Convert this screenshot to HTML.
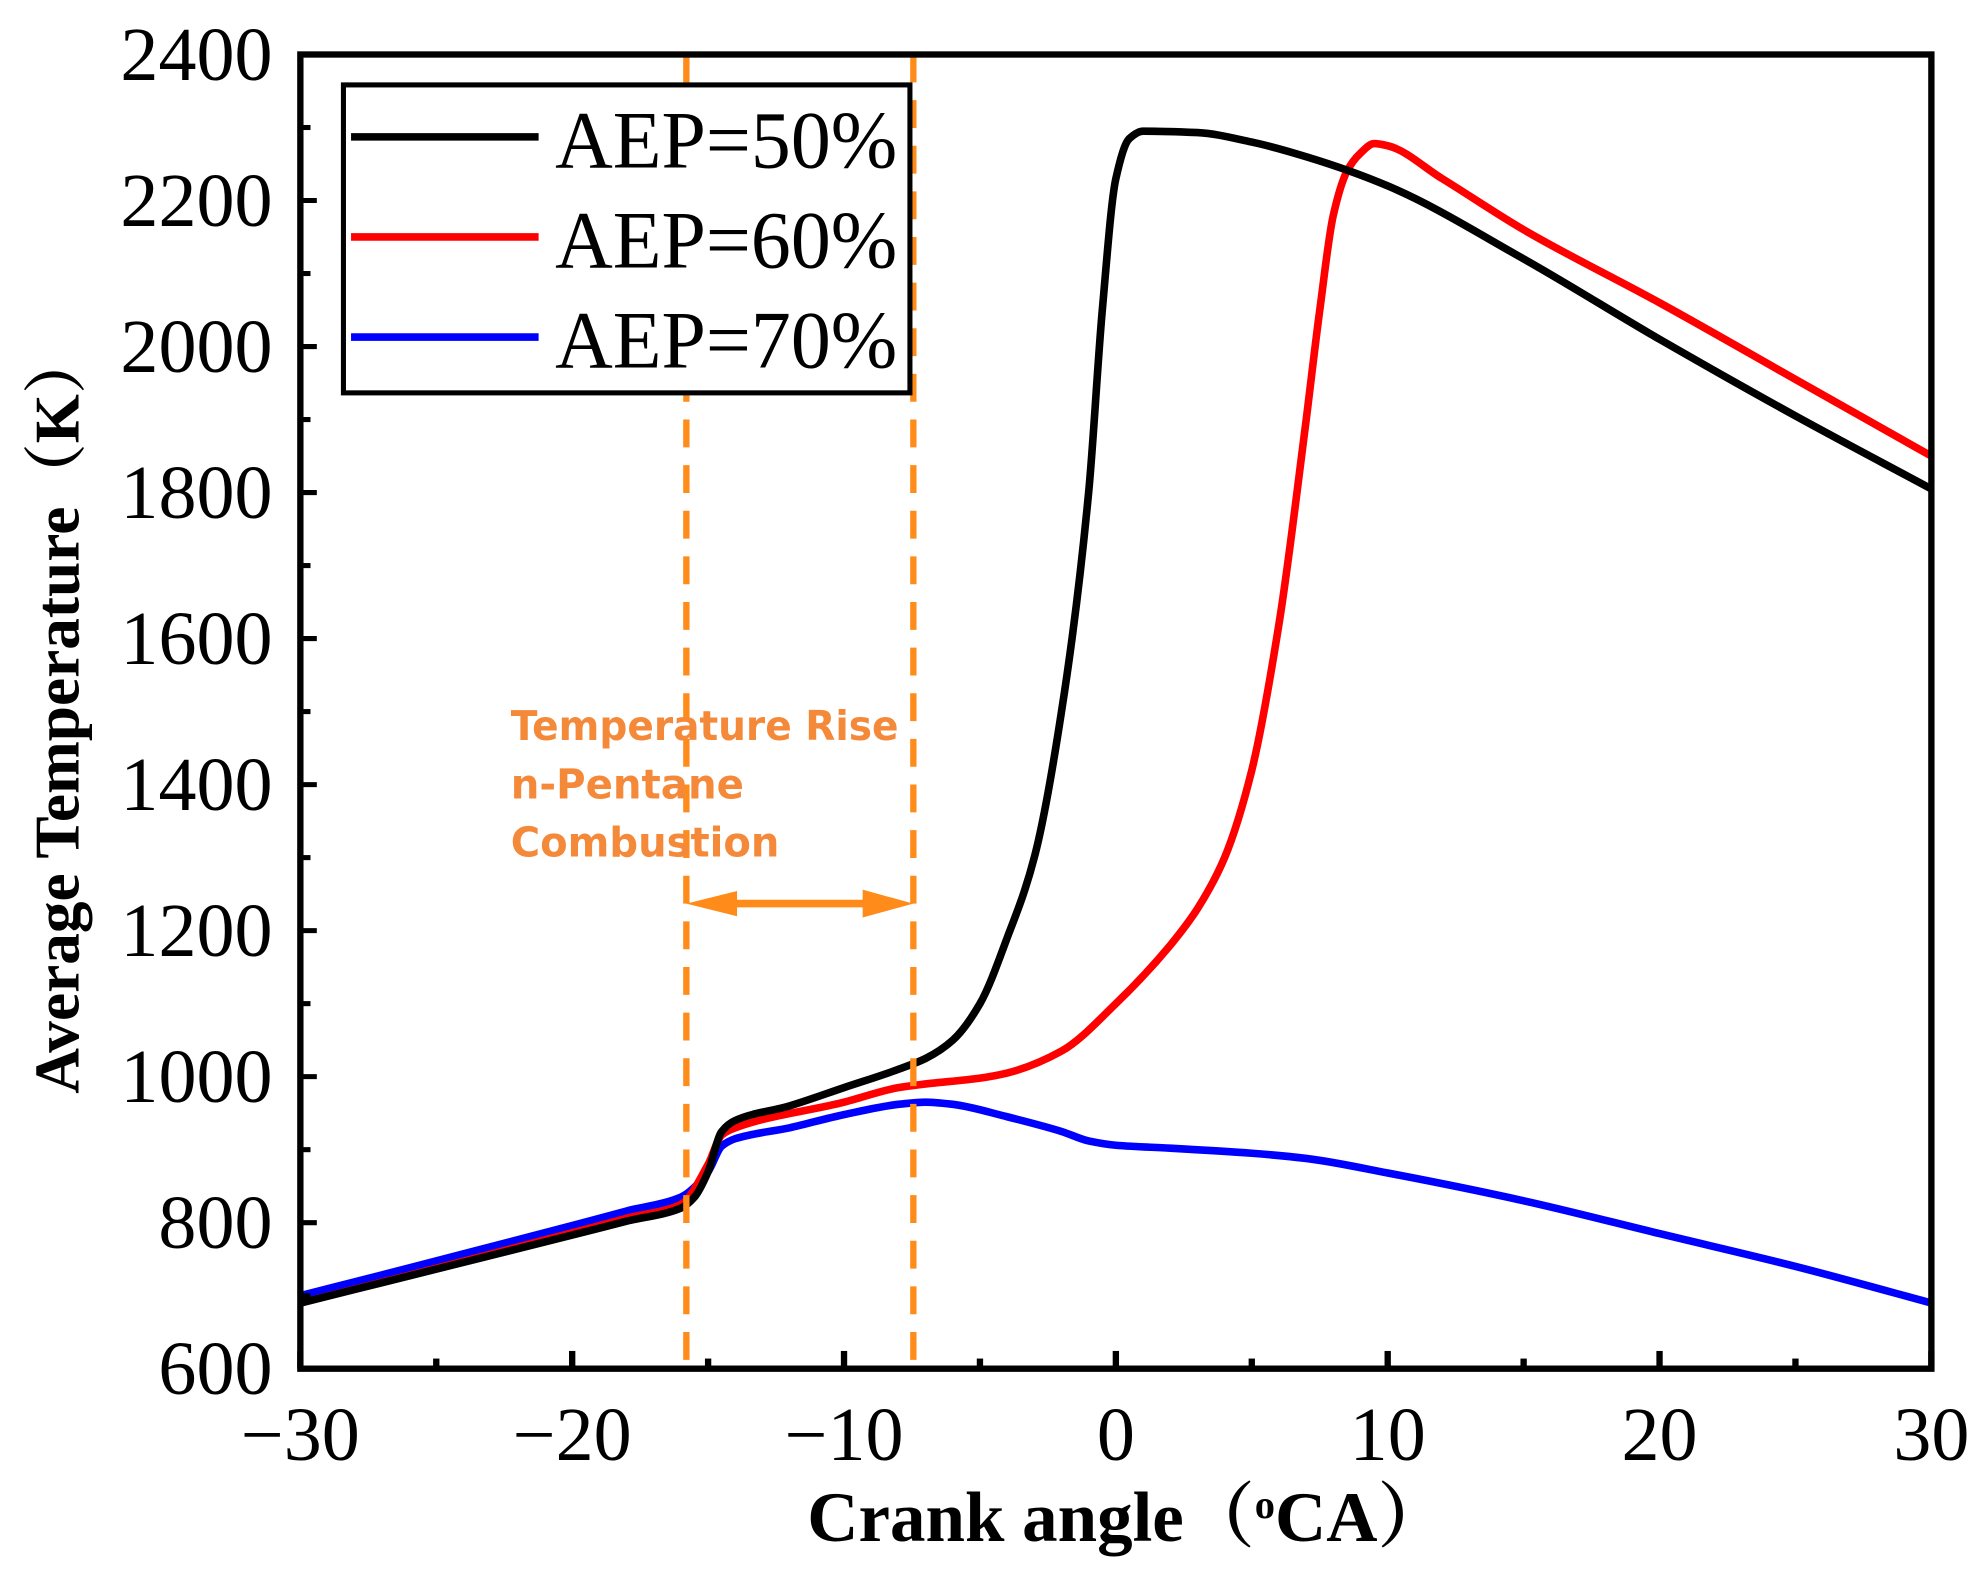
<!DOCTYPE html>
<html><head><meta charset="utf-8"><style>
html,body{margin:0;padding:0;background:#fff;}
svg{display:block;}
</style></head><body>
<svg id="chart" width="1977" height="1574" viewBox="0 0 1560 1242" preserveAspectRatio="none" xmlns="http://www.w3.org/2000/svg">
</svg>
<script>
const xTicks=[-30,-20,-10,0,10,20,30];
const yTicks=[600,800,1000,1200,1400,1600,1800,2000,2200,2400];
const seriesNames=["AEP=50%","AEP=60%","AEP=70%"];
const seriesColors=["#000000","#ff0000","#0000ff"];
const x50=[-30,-26,-23,-20,-18,-16,-15.5,-15,-14.5,-14,-12,-10,-8,-7,-6,-5,-4,-3,-2,-1,-0.5,0,0.5,1,3,5,7,10,15,20,25,30];
const y50=[690,727,755,783,802,820,835,870,925,940,960,985,1010,1025,1050,1100,1190,1300,1500,1800,2050,2230,2285,2295,2293,2280,2260,2220,2120,2010,1905,1805];
const x60=[-30,-26,-23,-20,-18,-16,-15,-14.5,-14,-10,-8,-7,-5,-4,-2,0,2,3,4,5,6,7,7.5,8,8.5,9,9.5,10,12,15,20,25,30];
const y60=[690,728,757,786,806,825,880,920,930,965,985,990,998,1005,1035,1100,1180,1230,1300,1420,1620,1900,2050,2180,2240,2265,2278,2275,2230,2160,2060,1955,1850];
const x70=[-30,-26,-23,-20,-18,-16,-15,-14.5,-14,-12,-10,-8,-7,-6,-4,-2,-1,0,2,5,7,10,15,20,25,30];
const y70=[700,738,767,796,816,835,870,905,915,930,948,962,965,962,945,925,912,906,902,895,888,868,830,785,740,690];
const markerX=[-15.8,-7.45];
const arrowY=1237;

const L=237,R=1524,T=43,B=1080;
const sx=v=>L+(v+30)/60*(R-L);
const sy=v=>B-(v-600)/1800*(B-T);
const svg=document.getElementById('chart');
const NS="http://www.w3.org/2000/svg";
function mk(tag,attrs,parent){const e=document.createElementNS(NS,tag);for(const k in attrs)e.setAttribute(k,attrs[k]);(parent||svg).appendChild(e);return e;}
function monotone(pts){
  const n=pts.length,dx=[],sl=[],m=[];
  for(let i=0;i<n-1;i++){dx[i]=pts[i+1][0]-pts[i][0];sl[i]=(pts[i+1][1]-pts[i][1])/dx[i];}
  m[0]=sl[0];m[n-1]=sl[n-2];
  for(let i=1;i<n-1;i++){
    if(sl[i-1]*sl[i]<=0)m[i]=0;
    else{const w1=2*dx[i]+dx[i-1],w2=dx[i]+2*dx[i-1];m[i]=(w1+w2)/(w1/sl[i-1]+w2/sl[i]);}
  }
  let d='M'+pts[0][0].toFixed(1)+' '+pts[0][1].toFixed(1);
  for(let i=0;i<n-1;i++){
    const h=dx[i]/3;
    d+=' C'+(pts[i][0]+h).toFixed(1)+' '+(pts[i][1]+m[i]*h).toFixed(1)+' '+(pts[i+1][0]-h).toFixed(1)+' '+(pts[i+1][1]-m[i+1]*h).toFixed(1)+' '+pts[i+1][0].toFixed(1)+' '+pts[i+1][1].toFixed(1);
  }
  return d;
}

const xs=[x50,x60,x70],ys=[y50,y60,y70];
for(let s=2;s>=0;s--){
  const pts=xs[s].map((x,i)=>[sx(x),sy(ys[s][i])]);
  const p=mk('path',{d:monotone(pts),fill:'none',stroke:seriesColors[s],'stroke-width':6,'stroke-linejoin':'round'});
  
  
}
markerX.forEach(m=>{
  const l=mk('line',{x1:sx(m),x2:sx(m),y1:T,y2:B,stroke:'#ff8c1a','stroke-width':5,'stroke-dasharray':'22 14'});
  
  
});
const ax1=sx(markerX[0]),ax2=sx(markerX[1]),ay=sy(arrowY);
const ar=mk('g',{});


mk('line',{x1:ax1+20,x2:ax2-20,y1:ay,y2:ay,stroke:'#ff8c1a','stroke-width':6},ar);
mk('polygon',{points:`${ax1},${ay} ${ax1+40},${ay-10} ${ax1+40},${ay+10}`,fill:'#ff8c1a'},ar);
mk('polygon',{points:`${ax2},${ay} ${ax2-40},${ay-11} ${ax2-40},${ay+11}`,fill:'#ff8c1a'},ar);
['Temperature Rise','n-Pentane','Combustion'].forEach((t,i)=>{
  const tx=mk('text',{x:403,y:584+i*46,'font-family':'"DejaVu Sans","Liberation Sans",sans-serif','font-size':32,fill:'#f5893a','font-weight':'bold',textLength:[306,184,212][i],lengthAdjust:'spacingAndGlyphs'});
  tx.textContent=t;
  
  
});
const fr=mk('rect',{x:L,y:T,width:R-L,height:B-T,fill:'none',stroke:'#000','stroke-width':5});


yTicks.forEach((v,i)=>{
  mk('line',{x1:L,x2:L+13,y1:sy(v),y2:sy(v),stroke:'#000','stroke-width':4});
  if(i<yTicks.length-1) mk('line',{x1:L,x2:L+8,y1:sy(v+100),y2:sy(v+100),stroke:'#000','stroke-width':4});
  const t=mk('text',{x:215,y:sy(v)+20,'text-anchor':'end','font-family':'"Liberation Serif",serif','font-size':60});
  t.textContent=v;
  
  
});
xTicks.forEach((v,i)=>{
  mk('line',{x1:sx(v),x2:sx(v),y1:B,y2:B-14,stroke:'#000','stroke-width':5});
  if(i<xTicks.length-1) mk('line',{x1:sx(v+5),x2:sx(v+5),y1:B,y2:B-8,stroke:'#000','stroke-width':5});
  const t=mk('text',{x:sx(v),y:1152,'text-anchor':'middle','font-family':'"Liberation Serif",serif','font-size':60});
  t.textContent=(v<0?'\u2212'+(-v):v);
  
  
});
const xt=mk('text',{x:890,y:1216,'text-anchor':'middle','font-family':'"Liberation Serif","Noto Serif CJK SC",serif','font-size':56,'font-weight':'bold'});
xt.innerHTML='Crank angle（<tspan font-size="32" dy="-18">o</tspan><tspan dy="18">CA）</tspan>';


const yt=mk('text',{x:0,y:0,transform:'translate(62,562) rotate(-90)','text-anchor':'middle','font-family':'"Liberation Serif","Noto Serif CJK SC",serif','font-size':50,'font-weight':'bold'});
yt.textContent='Average Temperature（K）';


const lg=mk('g',{});


mk('rect',{x:271,y:67,width:447,height:243,fill:'#fff',stroke:'#000','stroke-width':4},lg);
seriesNames.forEach((n,i)=>{
  const g=mk('g',{},lg);
  
  
  const yy=108+i*79;
  mk('line',{x1:277,x2:425,y1:yy,y2:yy,stroke:seriesColors[i],'stroke-width':6},g);
  const t=mk('text',{x:438,y:yy+24,'font-family':'"Liberation Serif",serif','font-size':64,textLength:270,lengthAdjust:'spacingAndGlyphs'},g);
  t.textContent=n;
});
</script>
</body></html>
